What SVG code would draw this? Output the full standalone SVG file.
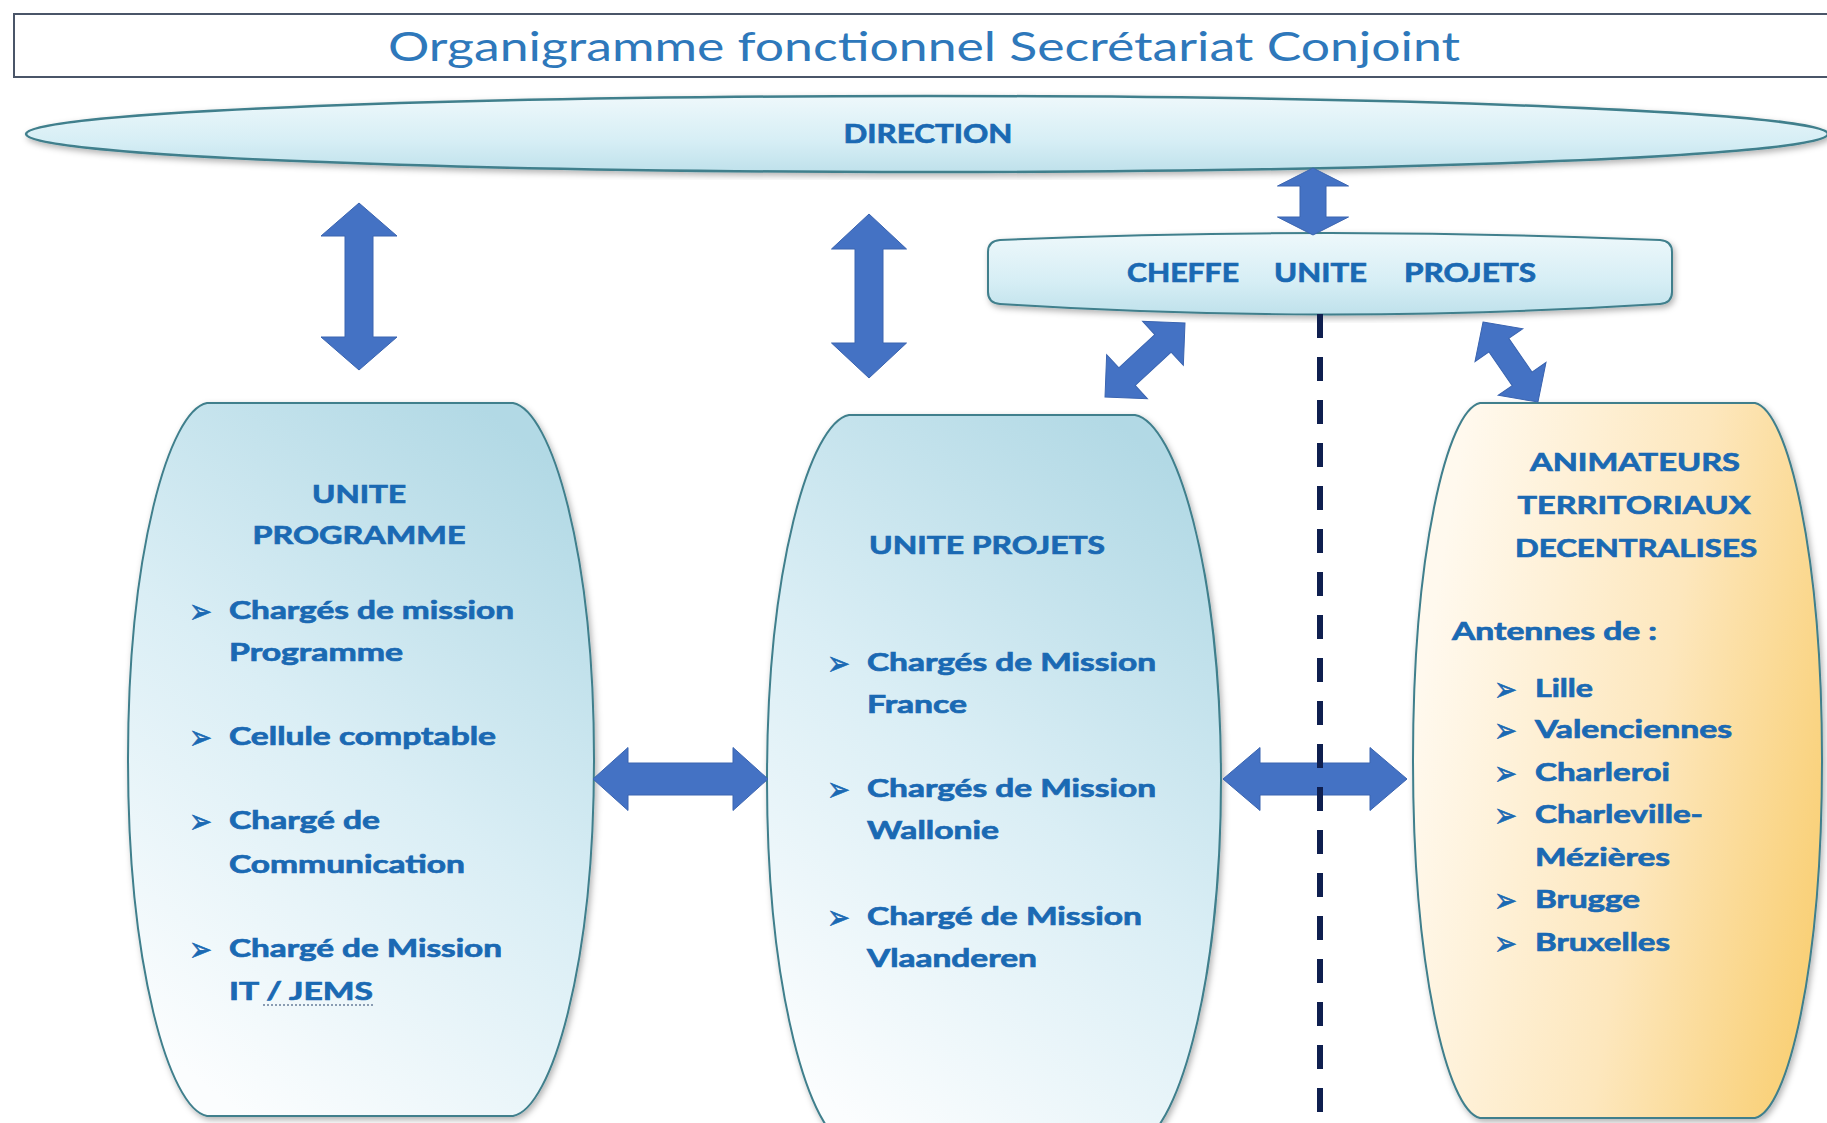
<svg xmlns="http://www.w3.org/2000/svg" width="1827" height="1123" viewBox="0 0 1827 1123">
<style>
.bx{stroke:#3f7f8c;stroke-width:2;filter:url(#sh)}
.t{font-family:Lato,"Open Sans","Liberation Sans",sans-serif;font-weight:bold;font-size:24px;fill:#1a69b3;stroke:#1a69b3;stroke-width:0.7}
.h{font-family:Lato,"Open Sans","Liberation Sans",sans-serif;font-weight:bold;font-size:26px;fill:#1a69b3;stroke:#1a69b3;stroke-width:0.7}
.bu{font-family:"DejaVu Sans",sans-serif;font-size:34px;fill:#1a69b3;stroke:#1a69b3;stroke-width:0.6}
.ar{fill:#4472c4;stroke:#3a64b0;stroke-width:1}
</style>
<defs>
<filter id="sh" x="-10%" y="-10%" width="120%" height="120%">
<feDropShadow dx="2" dy="3" stdDeviation="3" flood-color="#000" flood-opacity="0.3"/>
</filter>
<linearGradient id="gBlue" x1="0.75" y1="0" x2="0.25" y2="1">
<stop offset="0" stop-color="#b2d9e5"/>
<stop offset="0.5" stop-color="#daeef5"/>
<stop offset="1" stop-color="#fbfdfe"/>
</linearGradient>
<linearGradient id="gYel" x1="0" y1="0.45" x2="1" y2="0.75">
<stop offset="0" stop-color="#fff9ee"/>
<stop offset="0.55" stop-color="#fde7bd"/>
<stop offset="1" stop-color="#f9cf74"/>
</linearGradient>
<linearGradient id="gEll" x1="0" y1="0" x2="0" y2="1">
<stop offset="0" stop-color="#eef8fb"/>
<stop offset="0.6" stop-color="#d6eef5"/>
<stop offset="1" stop-color="#bfe1eb"/>
</linearGradient>
</defs>
<rect width="1827" height="1123" fill="#ffffff"/>

<g id="title">
<rect x="14" y="14" width="1840" height="63" fill="#ffffff" stroke="#4a5568" stroke-width="2"/>
<text x="924" y="61" text-anchor="middle" textLength="1072" lengthAdjust="spacingAndGlyphs" style="font-family:Lato,'Open Sans','Liberation Sans',sans-serif;font-size:40px;fill:#2e78bb">Organigramme fonctionnel Secrétariat Conjoint</text>
</g>

<g id="direction">
<ellipse class="bx" cx="927" cy="134" rx="901" ry="38" fill="url(#gEll)" style="stroke-width:2.5"/>
<text class="h" x="928" y="143" text-anchor="middle" textLength="169" lengthAdjust="spacingAndGlyphs">DIRECTION</text>
</g>

<g id="cheffe-unite-projets">
<path class="bx" fill="url(#gEll)" d="M 1000,240 Q 1330,226 1660,240 Q 1672,241 1672,252 L 1672,292 Q 1672,303 1660,304 Q 1330,325 1000,304 Q 988,303 988,292 L 988,252 Q 988,241 1000,240 Z"/>
<text class="h" y="282"><tspan x="1127" textLength="112" lengthAdjust="spacingAndGlyphs">CHEFFE</tspan><tspan x="1274" textLength="93" lengthAdjust="spacingAndGlyphs">UNITE</tspan><tspan x="1404" textLength="132" lengthAdjust="spacingAndGlyphs">PROJETS</tspan></text>
</g>

<g id="unite-programme">
<path class="bx" fill="url(#gBlue)" d="M 207,403 L 513,403 C 551.4,410.1 594,552.7 594,759.5 C 594,966.3 551.4,1108.9 513,1116 L 207,1116 C 169.4,1108.9 128,966.3 128,759.5 C 128,552.7 169.4,410.1 207,403 Z"/>
<text class="t" x="359" y="503" text-anchor="middle" textLength="94" lengthAdjust="spacingAndGlyphs">UNITE</text>
<text class="t" x="359" y="544" text-anchor="middle" textLength="213" lengthAdjust="spacingAndGlyphs">PROGRAMME</text>
<text class="bu" x="189" y="623" textLength="23" lengthAdjust="spacingAndGlyphs">➢</text>
<text class="t" x="229" y="619" textLength="285" lengthAdjust="spacingAndGlyphs">Chargés de mission</text>
<text class="t" x="229" y="661" textLength="174" lengthAdjust="spacingAndGlyphs">Programme</text>
<text class="bu" x="189" y="749" textLength="23" lengthAdjust="spacingAndGlyphs">➢</text>
<text class="t" x="229" y="745" textLength="267" lengthAdjust="spacingAndGlyphs">Cellule comptable</text>
<text class="bu" x="189" y="833" textLength="23" lengthAdjust="spacingAndGlyphs">➢</text>
<text class="t" x="229" y="829" textLength="151" lengthAdjust="spacingAndGlyphs">Chargé de</text>
<text class="t" x="229" y="873" textLength="236" lengthAdjust="spacingAndGlyphs">Communication</text>
<text class="bu" x="189" y="961" textLength="23" lengthAdjust="spacingAndGlyphs">➢</text>
<text class="t" x="229" y="957" textLength="273" lengthAdjust="spacingAndGlyphs">Chargé de Mission</text>
<text class="t" x="229" y="1000" textLength="144" lengthAdjust="spacingAndGlyphs">IT / JEMS</text>
<line x1="263" y1="1005" x2="373" y2="1005" stroke="#6a7f9a" stroke-width="1.5" stroke-dasharray="2,2"/>
</g>

<g id="unite-projets">
<path class="bx" fill="url(#gBlue)" d="M 849,415 L 1135,415 C 1175.4,422.3 1221,568.3 1221,780 C 1221,991.7 1175.4,1137.7 1135,1145 L 849,1145 C 810.2,1137.7 767,991.7 767,780 C 767,568.3 810.2,422.3 849,415 Z"/>
<text class="t" x="987" y="554" text-anchor="middle" textLength="236" lengthAdjust="spacingAndGlyphs">UNITE PROJETS</text>
<text class="bu" x="827" y="675" textLength="23" lengthAdjust="spacingAndGlyphs">➢</text>
<text class="t" x="867" y="671" textLength="289" lengthAdjust="spacingAndGlyphs">Chargés de Mission</text>
<text class="t" x="867" y="713" textLength="100" lengthAdjust="spacingAndGlyphs">France</text>
<text class="bu" x="827" y="801" textLength="23" lengthAdjust="spacingAndGlyphs">➢</text>
<text class="t" x="867" y="797" textLength="289" lengthAdjust="spacingAndGlyphs">Chargés de Mission</text>
<text class="t" x="867" y="839" textLength="132" lengthAdjust="spacingAndGlyphs">Wallonie</text>
<text class="bu" x="827" y="929" textLength="23" lengthAdjust="spacingAndGlyphs">➢</text>
<text class="t" x="867" y="925" textLength="275" lengthAdjust="spacingAndGlyphs">Chargé de Mission</text>
<text class="t" x="867" y="967" textLength="170" lengthAdjust="spacingAndGlyphs">Vlaanderen</text>
</g>

<g id="animateurs">
<path class="bx" fill="url(#gYel)" d="M 1480,403 L 1755,403 C 1787.8,410.2 1822,553.3 1822,760.5 C 1822,967.7 1787.8,1110.8 1755,1118 L 1480,1118 C 1447.2,1110.8 1413,967.7 1413,760.5 C 1413,553.3 1447.2,410.2 1480,403 Z"/>
<text class="t" x="1635" y="471" text-anchor="middle" textLength="210" lengthAdjust="spacingAndGlyphs">ANIMATEURS</text>
<text class="t" x="1634" y="514" text-anchor="middle" textLength="233" lengthAdjust="spacingAndGlyphs">TERRITORIAUX</text>
<text class="t" x="1636" y="557" text-anchor="middle" textLength="242" lengthAdjust="spacingAndGlyphs">DECENTRALISES</text>
<text class="t" x="1452" y="640" textLength="205" lengthAdjust="spacingAndGlyphs">Antennes de :</text>
<text class="bu" x="1494" y="701" textLength="23" lengthAdjust="spacingAndGlyphs">➢</text>
<text class="t" x="1535" y="697" textLength="58" lengthAdjust="spacingAndGlyphs">Lille</text>
<text class="bu" x="1494" y="742" textLength="23" lengthAdjust="spacingAndGlyphs">➢</text>
<text class="t" x="1535" y="738" textLength="197" lengthAdjust="spacingAndGlyphs">Valenciennes</text>
<text class="bu" x="1494" y="785" textLength="23" lengthAdjust="spacingAndGlyphs">➢</text>
<text class="t" x="1535" y="781" textLength="135" lengthAdjust="spacingAndGlyphs">Charleroi</text>
<text class="bu" x="1494" y="827" textLength="23" lengthAdjust="spacingAndGlyphs">➢</text>
<text class="t" x="1535" y="823" textLength="168" lengthAdjust="spacingAndGlyphs">Charleville-</text>
<text class="t" x="1535" y="866" textLength="135" lengthAdjust="spacingAndGlyphs">Mézières</text>
<text class="bu" x="1494" y="912" textLength="23" lengthAdjust="spacingAndGlyphs">➢</text>
<text class="t" x="1535" y="908" textLength="105" lengthAdjust="spacingAndGlyphs">Brugge</text>
<text class="bu" x="1494" y="955" textLength="23" lengthAdjust="spacingAndGlyphs">➢</text>
<text class="t" x="1535" y="951" textLength="135" lengthAdjust="spacingAndGlyphs">Bruxelles</text>
</g>

<g id="connectors">
<path class="ar" transform="translate(359,286.5) rotate(90)" d="M -83.5,0 L -50.5,-38 L -50.5,-14 L 50.5,-14 L 50.5,-38 L 83.5,0 L 50.5,38 L 50.5,14 L -50.5,14 L -50.5,38 Z"/>
<path class="ar" transform="translate(869,296) rotate(90)" d="M -82,0 L -47,-37.5 L -47,-14 L 47,-14 L 47,-37.5 L 82,0 L 47,37.5 L 47,14 L -47,14 L -47,37.5 Z"/>
<path class="ar" transform="translate(1313,201.5) rotate(90)" d="M -33.5,0 L -15.5,-35.5 L -15.5,-13 L 15.5,-13 L 15.5,-35.5 L 33.5,0 L 15.5,35.5 L 15.5,13 L -15.5,13 L -15.5,35.5 Z"/>
<path class="ar" transform="translate(680.5,779)" d="M -87.5,0 L -52.5,-31.5 L -52.5,-16 L 52.5,-16 L 52.5,-31.5 L 87.5,0 L 52.5,31.5 L 52.5,16 L -52.5,16 L -52.5,31.5 Z"/>
<path class="ar" transform="translate(1315,779)" d="M -92,0 L -55,-31.5 L -55,-16 L 55,-16 L 55,-31.5 L 92,0 L 55,31.5 L 55,16 L -55,16 L -55,31.5 Z"/>
<path class="ar" transform="translate(1145,360) rotate(-42.8)" d="M -54.5,0 L -24.5,-30 L -24.5,-12 L 24.5,-12 L 24.5,-30 L 54.5,0 L 24.5,30 L 24.5,12 L -24.5,12 L -24.5,30 Z"/>
<path class="ar" transform="translate(1510.5,362) rotate(55.5)" d="M -48.5,0 L -20.5,-29 L -20.5,-12 L 20.5,-12 L 20.5,-29 L 48.5,0 L 20.5,29 L 20.5,12 L -20.5,12 L -20.5,29 Z"/>
<line x1="1320" y1="314" x2="1320" y2="1123" stroke="#0f1f4f" stroke-width="6" stroke-dasharray="24,19"/>
</g>
</svg>
